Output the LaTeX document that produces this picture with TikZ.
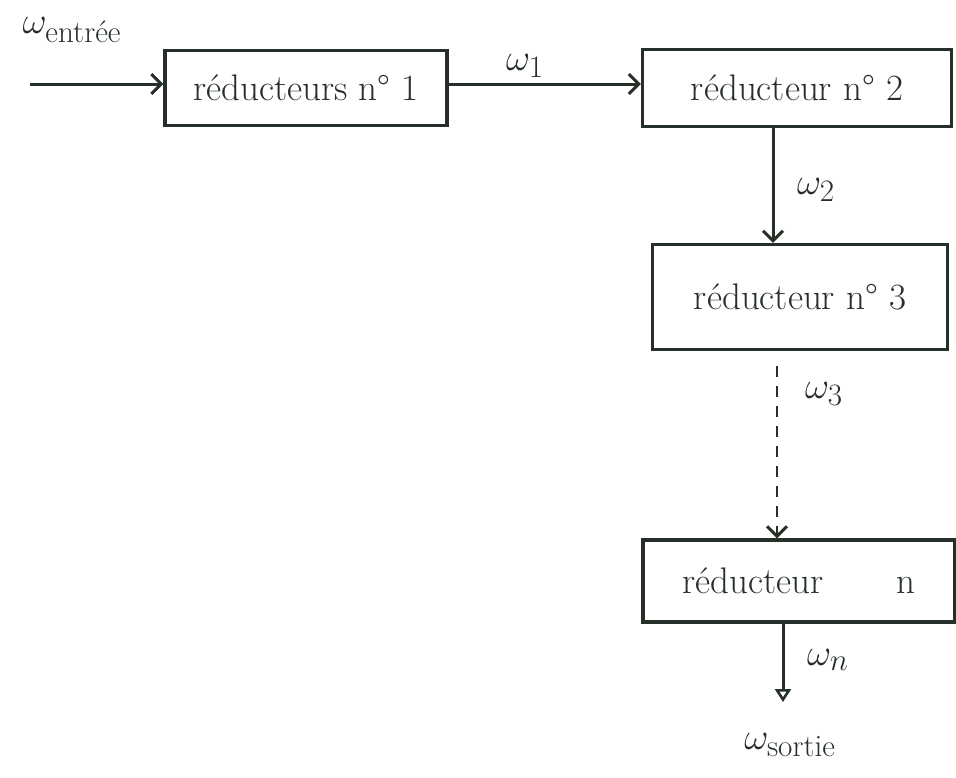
\documentclass[tikz,border=0pt]{standalone}
\usepackage{amsmath}
\usepackage{graphicx}
\usepackage{tikz}
\usetikzlibrary{arrows.meta,positioning}

\definecolor{ink}{RGB}{38,48,40}
\newcommand{\grandom}[1]{\scalebox{1.5}{\Huge$#1$}}

\tikzset{
    reducteur/.style={draw=ink, line width=3.2pt, text=ink, minimum width=#1, inner sep=0pt,
        font=\fontsize{37}{40}\selectfont},
    fleche/.style={draw=ink, line width=3pt, -{Straight Barb[length=10pt,width=20pt,line width=3pt]}},
    flechefin/.style={draw=ink, line width=3pt, -{Triangle[open,length=13pt,width=16pt,line width=2.6pt]}},
    omega/.style={text=ink, inner sep=0pt}
}

\begin{document}
\begin{tikzpicture}[x=1pt,y=-1pt]
    \useasboundingbox (0,0) rectangle (956,777);

    \node[reducteur=282pt, minimum height=75pt] (r1) at (306,88) {réducteurs n° 1};
    \node[reducteur=309pt, minimum height=77pt] (r2) at (797,88) {réducteur n° 2};
    \node[reducteur=295pt, minimum height=105pt] (r3) at (800,297) {réducteur n° 3};
    \node[reducteur=312pt, minimum height=82pt] (rn) at (799,581) {réducteur \hspace{50pt} n};

    \coordinate (e) at (30,84);
    \coordinate (s) at (783,702);

    \draw[fleche] (e) -- (e -| r1.west);
    \draw[fleche] (r1.east |- 0,84) -- (r2.west |- 0,84);
    \draw[fleche] ([xshift=-24pt]r2.south) -- ([xshift=-27pt]r3.north);
    \draw[fleche, dash pattern=on 11pt off 9pt, line width=2.4pt] ([shift={(-23,15)}]r3.south) -- ([xshift=-22pt]rn.north);
    \draw[flechefin] ([xshift=-16pt]rn.south) -- (s);

    \node[omega] (lentree) at (72,30) {\grandom{\omega_{\text{entrée}}}};
    \node[omega] (l1) at (525,66) {\grandom{\omega_1}};
    \node[omega] (l2) at (816,190) {\grandom{\omega_2}};
    \node[omega] (l3) at (824,394) {\grandom{\omega_3}};
    \node[omega] (ln) at (828,660) {\grandom{\omega_n}};
    \node[omega] (lsortie) at (790,745) {\grandom{\omega_{\text{sortie}}}};
\end{tikzpicture}
\end{document}
